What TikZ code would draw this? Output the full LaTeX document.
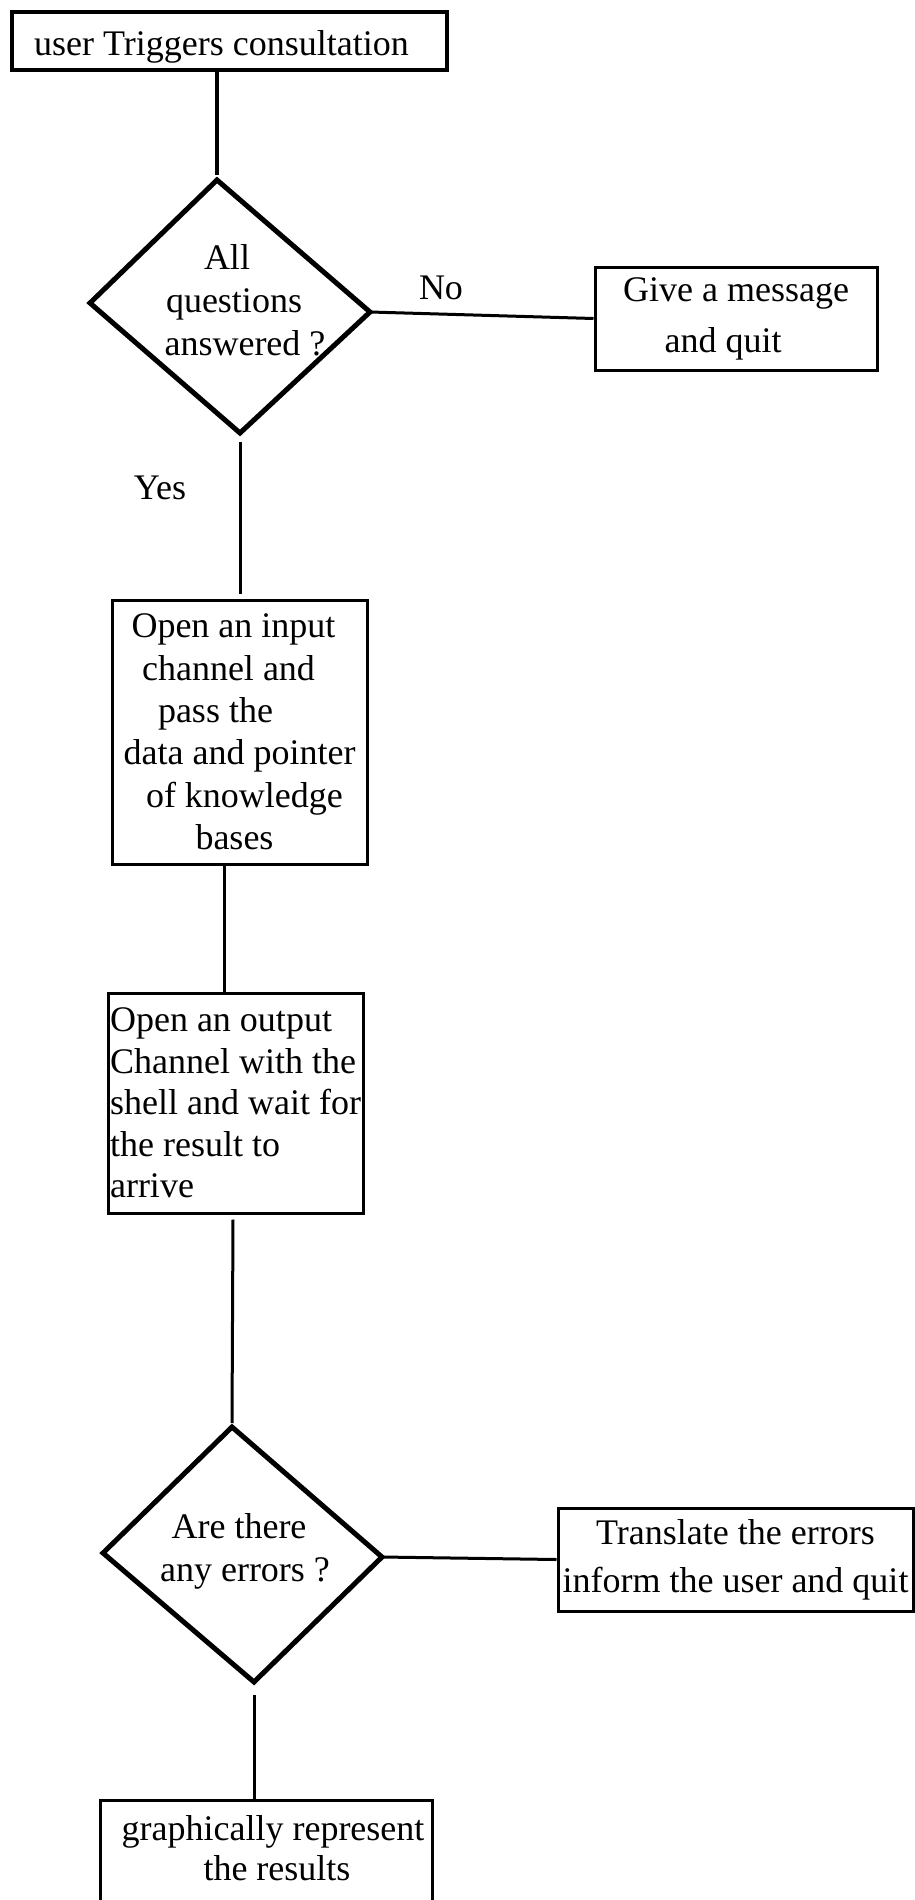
\documentclass[tikz,border=0pt]{standalone}
\usepackage{fontspec}
\setmainfont{Liberation Serif}
\usetikzlibrary{calc}
\begin{document}
\begin{tikzpicture}[x=0.5pt,y=-0.5pt,
  box/.style={draw, line width=1.5pt, inner sep=0pt, align=center,
              font=\fontsize{18}{21}\selectfont},
  txt/.style={inner sep=0pt, align=center, font=\fontsize{18}{21}\selectfont},
  decision/.style={draw, line width=2.5pt, line join=miter},
  link/.style={draw, line width=1.5pt}]
\useasboundingbox (0,0) rectangle (915,1900);
\clip (0,0) rectangle (915,1900);

% start of the consultation
\node[box, line width=1.8pt, minimum width=217.5pt, minimum height=29pt,
      text height=15pt, text depth=0pt]
  (start) at (229.5,41) {user Triggers consultation\hspace{8pt}};

% first decision
\coordinate (q1t) at (217,180);
\coordinate (q1r) at (370,312);
\coordinate (q1b) at (240,433);
\coordinate (q1l) at (90,303);
\draw[decision] (q1t) -- (q1r) -- (q1b) -- (q1l) -- cycle;
\node[txt, font=\fontsize{18}{21.5}\selectfont] (q1) at (234,300)
  {All\hspace*{7pt}\\questions\\\hspace*{11pt}answered ?};

\draw[link, line width=2pt] (start.south -| q1t) -- ($(q1t)+(0,-5)$);

% "No" branch
\node[box, minimum width=141pt, minimum height=51.5pt,
      font=\fontsize{18}{25.5}\selectfont] (give) at (736,318.5)
  {Give a message\\and quit\hspace*{13pt}};
\draw[link] (q1r) -- (give.west);
\node[txt] (no) at (441,288) {No};

% "Yes" branch
\node[txt] (yes) at (160,488) {Yes};
\node[box, minimum width=127.5pt, minimum height=132pt,
      font=\fontsize{18}{21.2}\selectfont] (input) at (239.5,732)
  {\hbox{Open an input\hskip6pt}\\\hbox{channel and\hskip11pt}\\
   \hbox{pass the\hskip24pt}\\\hbox{data and pointer}\\
   \hbox{\hskip5pt of knowledge}\\\hbox{bases\hskip5pt}};
\draw[link] ($(q1b)+(0,9)$) -- ($(input.north)+(0.5,-5)$);

\node[box, align=left, minimum width=127.5pt, minimum height=110pt,
      font=\fontsize{18}{20.75}\selectfont] (output) at (235.5,1103)
  {Open an output\\Channel with the\\shell and wait for\\the result to\\arrive};
\draw[link] ([xshift=-7.75pt]input.south) -- ([xshift=-5.75pt]output.north);

% second decision
\coordinate (q2t) at (232,1427);
\coordinate (q2r) at (382,1557);
\coordinate (q2b) at (254,1682);
\coordinate (q2l) at (103,1553);
\draw[decision] (q2t) -- (q2r) -- (q2b) -- (q2l) -- cycle;
\node[txt, font=\fontsize{18}{21.5}\selectfont] (q2) at (245,1551)
  {Are there\hspace*{6pt}\\any errors ?};
\draw[link] ($(output.south)+(-2.5,5)$) -- ($(q2t)+(0,-4)$);

% error branch
\node[box, minimum width=177.5pt, minimum height=51.5pt,
      font=\fontsize{18}{24}\selectfont] (trans) at (735.5,1559.5)
  {Translate the errors\\inform the user and quit};
\draw[link] (q2r) -- (trans.west);

% results
\node[box, anchor=north, minimum width=166pt, minimum height=70pt]
  (res) at (266,1799) {};
\node[txt, font=\fontsize{18}{20}\selectfont] (restext) at (273,1848)
  {graphically represent\\\hspace*{4pt}the results};
\draw[link] ($(q2b)+(0,13)$) -- (res.north -| q2b);
\end{tikzpicture}
\end{document}
